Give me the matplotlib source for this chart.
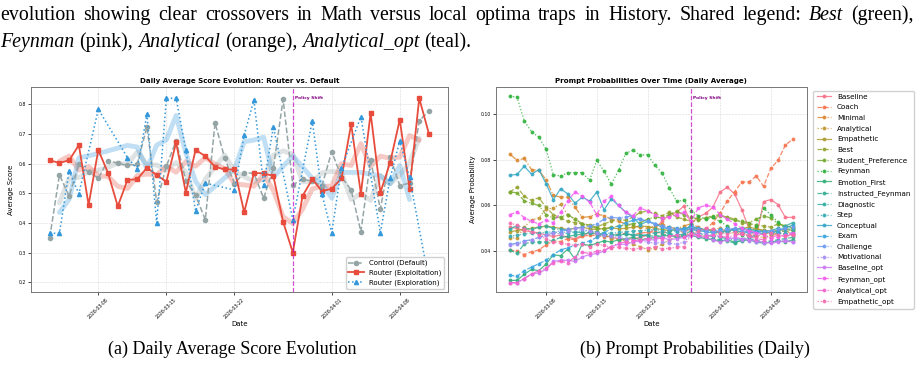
import numpy as np
import pandas as pd
import matplotlib
matplotlib.use("Agg")
import matplotlib.pyplot as plt
import matplotlib.dates as mdates
from matplotlib.ticker import MultipleLocator
import seaborn as sns

# ---- data -------------------------------------------------------------
dates = pd.date_range("2026-03-03", "2026-04-11", freq="D")
policy_shift = pd.Timestamp("2026-03-28")

control = [0.350, 0.562, 0.490, 0.599, 0.571, 0.551, 0.610, 0.601, 0.594, 0.598,
           0.724, 0.470, 0.591, 0.677, 0.542, 0.494, 0.410, 0.737, 0.618, 0.532,
           0.569, 0.567, 0.483, 0.584, 0.817, 0.528, 0.548, 0.540, 0.526, 0.640,
           0.555, 0.511, 0.370, 0.612, 0.446, 0.623, 0.526, 0.534, 0.744, 0.778]
exploit = [0.611, 0.602, 0.611, 0.662, 0.461, 0.646, 0.568, 0.456, 0.545, 0.547,
           0.586, 0.561, 0.539, 0.671, 0.502, 0.646, 0.625, 0.589, 0.580, 0.580,
           0.436, 0.568, 0.567, 0.558, 0.404, 0.300, 0.491, 0.547, 0.507, 0.515,
           0.550, 0.733, 0.498, 0.770, 0.502, 0.603, 0.748, 0.515, 0.820, 0.700]
explore = [0.365, 0.365, 0.576, 0.498, None, 0.783, None, None, 0.620, 0.581,
           0.766, 0.400, 0.820, 0.820, 0.646, 0.440, 0.534, None, None, 0.511,
           0.696, 0.814, 0.528, 0.724, None, 0.410, None, 0.744, 0.497, 0.367,
           0.585, None, 0.758, None, 0.367, 0.550, 0.677, 0.554, None, 0.205]

prompt_names = ["Baseline", "Coach", "Minimal", "Analytical", "Empathetic", "Best",
                "Student_Preference", "Feynman", "Emotion_First", "Instructed_Feynman",
                "Diagnostic", "Step", "Conceptual", "Exam", "Challenge", "Motivational",
                "Baseline_opt", "Feynman_opt", "Analytical_opt", "Empathetic_opt"]

baseline = [0.0505, 0.0500, 0.0490, 0.0485, 0.0480, 0.0470, 0.0465, 0.0470, 0.0460, 0.0455,
            0.0470, 0.0480, 0.0475, 0.0470, 0.0460, 0.0455, 0.0450, 0.0455, 0.0460, 0.0470,
            0.0500, 0.0530, 0.0560, 0.0570, 0.0597, 0.0520, 0.0550, 0.0565, 0.0592, 0.0659,
            0.0680, 0.0651, 0.0582, 0.0497, 0.0460, 0.0617, 0.0626, 0.0604, 0.0548, 0.0548]
coach = [0.0405, 0.0400, 0.0385, 0.0398, 0.0405, 0.0428, 0.0445, 0.0442, 0.0455, 0.0450,
         0.0465, 0.0470, 0.0468, 0.0462, 0.0470, 0.0475, 0.0478, 0.0470, 0.0480, 0.0482,
         0.0485, 0.0478, 0.0490, 0.0495, 0.0480, 0.0500, 0.0490, 0.0495, 0.0525, 0.0566,
         0.0620, 0.0660, 0.0703, 0.0703, 0.0729, 0.0684, 0.0762, 0.0798, 0.0864, 0.0890]
minimal = [0.0825, 0.0798, 0.0806, 0.0757, 0.0754, 0.0713, 0.0644, 0.0637, 0.0637, 0.0592,
           0.0548, 0.0551, 0.0563, 0.0555, 0.0540, 0.0530, 0.0520, 0.0510, 0.0505, 0.0500,
           0.0510, 0.0520, 0.0505, 0.0498, 0.0510, 0.0520, 0.0505, 0.0490, 0.0495, 0.0500,
           0.0485, 0.0495, 0.0480, 0.0490, 0.0500, 0.0485, 0.0470, 0.0480, 0.0490, 0.0475]
analytical = [0.0457, 0.0459, 0.0505, 0.0537, 0.0545, 0.0585, 0.0588, 0.0605, 0.0560, 0.0540,
              0.0520, 0.0505, 0.0480, 0.0470, 0.0455, 0.0450, 0.0445, 0.0430, 0.0420, 0.0406,
              0.0415, 0.0430, 0.0450, 0.0465, 0.0470, 0.0480, 0.0470, 0.0465, 0.0470, 0.0480,
              0.0490, 0.0475, 0.0480, 0.0470, 0.0465, 0.0460, 0.0470, 0.0480, 0.0475, 0.0470]
empathetic = [0.0485, 0.0490, 0.0495, 0.0500, 0.0505, 0.0510, 0.0505, 0.0500, 0.0495, 0.0500,
              0.0505, 0.0498, 0.0495, 0.0500, 0.0502, 0.0498, 0.0500, 0.0505, 0.0510, 0.0508,
              0.0500, 0.0495, 0.0490, 0.0495, 0.0500, 0.0505, 0.0498, 0.0495, 0.0490, 0.0485,
              0.0490, 0.0495, 0.0500, 0.0505, 0.0498, 0.0492, 0.0488, 0.0490, 0.0495, 0.0492]
best = [0.0659, 0.0680, 0.0640, 0.0622, 0.0634, 0.0592, 0.0560, 0.0545, 0.0530, 0.0525,
        0.0520, 0.0515, 0.0505, 0.0520, 0.0530, 0.0540, 0.0535, 0.0550, 0.0570, 0.0575,
        0.0565, 0.0555, 0.0570, 0.0550, 0.0540, 0.0530, 0.0535, 0.0545, 0.0550, 0.0555,
        0.0550, 0.0540, 0.0525, 0.0520, 0.0515, 0.0510, 0.0505, 0.0520, 0.0510, 0.0505]
student_pref = [0.0660, 0.0655, 0.0620, 0.0610, 0.0600, 0.0560, 0.0545, 0.0550, 0.0560, 0.0540,
                0.0520, 0.0510, 0.0500, 0.0495, 0.0505, 0.0510, 0.0515, 0.0520, 0.0525, 0.0540,
                0.0550, 0.0545, 0.0560, 0.0575, 0.0560, 0.0550, 0.0540, 0.0545, 0.0555, 0.0560,
                0.0545, 0.0535, 0.0530, 0.0525, 0.0540, 0.0555, 0.0545, 0.0520, 0.0510, 0.0500]
feynman = [0.1078, 0.1075, 0.0970, 0.0923, 0.0900, 0.0847, 0.0735, 0.0729, 0.0744, 0.0744,
           0.0744, 0.0710, 0.0798, 0.0750, 0.0693, 0.0754, 0.0829, 0.0842, 0.0820, 0.0823,
           0.0776, 0.0742, 0.0678, 0.0619, 0.0622, 0.0578, 0.0555, 0.0540, 0.0548, 0.0530,
           0.0510, 0.0490, 0.0470, 0.0467, 0.0510, 0.0587, 0.0560, 0.0526, 0.0505, 0.0490]
emotion_first = [0.0272, 0.0272, 0.0299, 0.0320, 0.0315, 0.0343, 0.0384, 0.0380, 0.0409, 0.0365,
                 0.0431, 0.0425, 0.0435, 0.0445, 0.0440, 0.0450, 0.0455, 0.0460, 0.0450, 0.0455,
                 0.0460, 0.0465, 0.0470, 0.0460, 0.0465, 0.0470, 0.0460, 0.0455, 0.0450, 0.0445,
                 0.0450, 0.0440, 0.0445, 0.0450, 0.0440, 0.0435, 0.0440, 0.0445, 0.0440, 0.0450]
instructed_feynman = [0.0404, 0.0390, 0.0432, 0.0440, 0.0440, 0.0440, 0.0447, 0.0460, 0.0465, 0.0470,
                      0.0475, 0.0478, 0.0475, 0.0470, 0.0465, 0.0470, 0.0475, 0.0472, 0.0470, 0.0468,
                      0.0465, 0.0470, 0.0475, 0.0468, 0.0470, 0.0490, 0.0465, 0.0460, 0.0455, 0.0450,
                      0.0445, 0.0435, 0.0450, 0.0455, 0.0448, 0.0440, 0.0445, 0.0450, 0.0455, 0.0460]
diagnostic = [0.0497, 0.0512, 0.0500, 0.0495, 0.0505, 0.0510, 0.0500, 0.0495, 0.0490, 0.0485,
              0.0480, 0.0482, 0.0478, 0.0475, 0.0470, 0.0472, 0.0475, 0.0470, 0.0468, 0.0472,
              0.0480, 0.0485, 0.0478, 0.0470, 0.0475, 0.0520, 0.0480, 0.0470, 0.0465, 0.0460,
              0.0455, 0.0450, 0.0455, 0.0460, 0.0470, 0.0480, 0.0490, 0.0500, 0.0510, 0.0525]
step = [0.0465, 0.0470, 0.0475, 0.0480, 0.0478, 0.0482, 0.0485, 0.0480, 0.0478, 0.0485,
        0.0490, 0.0488, 0.0485, 0.0480, 0.0478, 0.0482, 0.0485, 0.0488, 0.0490, 0.0492,
        0.0495, 0.0490, 0.0488, 0.0485, 0.0490, 0.0500, 0.0495, 0.0490, 0.0485, 0.0480,
        0.0485, 0.0490, 0.0495, 0.0490, 0.0485, 0.0480, 0.0478, 0.0485, 0.0490, 0.0495]
conceptual = [0.0733, 0.0736, 0.0772, 0.0737, 0.0757, 0.0696, 0.0625, 0.0673, 0.0651, 0.0610,
              0.0637, 0.0619, 0.0659, 0.0581, 0.0629, 0.0600, 0.0570, 0.0548, 0.0516, 0.0531,
              0.0520, 0.0505, 0.0495, 0.0490, 0.0500, 0.0495, 0.0490, 0.0485, 0.0480, 0.0485,
              0.0490, 0.0495, 0.0500, 0.0495, 0.0490, 0.0485, 0.0480, 0.0490, 0.0500, 0.0515]
exam = [0.0295, 0.0290, 0.0315, 0.0330, 0.0345, 0.0360, 0.0385, 0.0405, 0.0415, 0.0425,
        0.0435, 0.0445, 0.0460, 0.0480, 0.0500, 0.0510, 0.0525, 0.0535, 0.0540, 0.0530,
        0.0520, 0.0510, 0.0505, 0.0500, 0.0495, 0.0510, 0.0500, 0.0495, 0.0490, 0.0495,
        0.0500, 0.0490, 0.0485, 0.0480, 0.0485, 0.0490, 0.0485, 0.0480, 0.0475, 0.0480]
challenge = [0.0430, 0.0435, 0.0445, 0.0450, 0.0460, 0.0470, 0.0480, 0.0490, 0.0495, 0.0500,
             0.0505, 0.0510, 0.0520, 0.0540, 0.0548, 0.0545, 0.0550, 0.0555, 0.0540, 0.0530,
             0.0520, 0.0510, 0.0500, 0.0495, 0.0490, 0.0500, 0.0495, 0.0490, 0.0485, 0.0490,
             0.0495, 0.0500, 0.0490, 0.0485, 0.0480, 0.0485, 0.0490, 0.0495, 0.0500, 0.0505]
motivational = [0.0425, 0.0430, 0.0440, 0.0450, 0.0460, 0.0470, 0.0480, 0.0475, 0.0490, 0.0500,
                0.0495, 0.0490, 0.0480, 0.0470, 0.0465, 0.0460, 0.0455, 0.0450, 0.0445, 0.0440,
                0.0435, 0.0440, 0.0435, 0.0431, 0.0440, 0.0470, 0.0480, 0.0475, 0.0470, 0.0465,
                0.0460, 0.0455, 0.0450, 0.0445, 0.0440, 0.0435, 0.0440, 0.0445, 0.0450, 0.0440]
baseline_opt = [0.0262, 0.0262, 0.0280, 0.0300, 0.0305, 0.0320, 0.0355, 0.0360, 0.0360, 0.0355,
                0.0375, 0.0385, 0.0390, 0.0400, 0.0420, 0.0430, 0.0430, 0.0440, 0.0445, 0.0450,
                0.0450, 0.0460, 0.0450, 0.0455, 0.0460, 0.0470, 0.0465, 0.0460, 0.0450, 0.0440,
                0.0450, 0.0460, 0.0455, 0.0450, 0.0445, 0.0440, 0.0435, 0.0440, 0.0445, 0.0440]
feynman_opt = [0.0560, 0.0572, 0.0547, 0.0530, 0.0520, 0.0535, 0.0525, 0.0570, 0.0620, 0.0660,
               0.0640, 0.0615, 0.0560, 0.0620, 0.0640, 0.0600, 0.0570, 0.0555, 0.0590, 0.0575,
               0.0560, 0.0545, 0.0550, 0.0560, 0.0570, 0.0530, 0.0590, 0.0600, 0.0595, 0.0560,
               0.0540, 0.0520, 0.0500, 0.0490, 0.0480, 0.0470, 0.0455, 0.0460, 0.0470, 0.0480]
analytical_opt = [0.0262, 0.0262, 0.0280, 0.0300, 0.0315, 0.0325, 0.0350, 0.0355, 0.0350, 0.0375,
                  0.0395, 0.0390, 0.0400, 0.0405, 0.0420, 0.0435, 0.0440, 0.0445, 0.0450, 0.0455,
                  0.0460, 0.0455, 0.0465, 0.0470, 0.0460, 0.0480, 0.0470, 0.0465, 0.0470, 0.0465,
                  0.0460, 0.0470, 0.0475, 0.0465, 0.0455, 0.0450, 0.0460, 0.0470, 0.0465, 0.0475]
empathetic_opt = [0.0523, 0.0515, 0.0498, 0.0485, 0.0470, 0.0455, 0.0440, 0.0435, 0.0430, 0.0425,
                  0.0430, 0.0420, 0.0430, 0.0425, 0.0415, 0.0418, 0.0412, 0.0411, 0.0412, 0.0415,
                  0.0418, 0.0410, 0.0412, 0.0418, 0.0420, 0.0470, 0.0490, 0.0500, 0.0495, 0.0480,
                  0.0475, 0.0485, 0.0480, 0.0470, 0.0465, 0.0475, 0.0480, 0.0470, 0.0465, 0.0470]

prompt_series = [baseline, coach, minimal, analytical, empathetic, best, student_pref,
                 feynman, emotion_first, instructed_feynman, diagnostic, step, conceptual,
                 exam, challenge, motivational, baseline_opt, feynman_opt, analytical_opt,
                 empathetic_opt]

# ---- figure -----------------------------------------------------------
fig = plt.figure(figsize=(9.23, 3.65), dpi=100)
ax1 = fig.add_axes([0.0333, 0.2, 0.452, 0.5616])
ax2 = fig.add_axes([0.537, 0.2, 0.337, 0.5616])

GRAY, RED, BLUE = "#95a5a6", "#e74c3c", "#3498db"

ctrl = pd.Series(control, index=dates)
expl = pd.Series(exploit, index=dates)
explr = pd.Series(explore, index=dates, dtype=float).dropna()

# smoothed trends (rolling mean, 3 days)
for s, c in [(ctrl, GRAY), (expl, RED), (explr, BLUE)]:
    sm = s.rolling(3, center=True).mean()
    ax1.plot(sm.index, sm.values, color=c, lw=3.5, alpha=0.3, solid_capstyle="round")

ax1.plot(ctrl.index, ctrl.values, color=GRAY, ls="--", marker="o", ms=3, lw=1.1,
         label="Control (Default)")
ax1.plot(expl.index, expl.values, color=RED, ls="-", marker="s", ms=3.2, lw=1.3,
         label="Router (Exploitation)")
ax1.plot(explr.index, explr.values, color=BLUE, ls=":", marker="^", ms=3, lw=1.1,
         label="Router (Exploration)")
ax1.set_ylim(0.167, 0.858)
ax1.set_title("Daily Average Score Evolution: Router vs. Default", fontsize=5.1,
              fontweight="bold", pad=3)
ax1.set_ylabel("Average Score", fontsize=5, labelpad=3)
ax1.legend(loc="lower right", fontsize=5, framealpha=0.9, handlelength=2.2,
           borderpad=0.4, labelspacing=0.45)

palette = sns.color_palette("husl", len(prompt_names))
styles = ["-", "--", "-.", ":"]
for i, (name, vals) in enumerate(zip(prompt_names, prompt_series)):
    ax2.plot(dates, vals, color=palette[i], ls=styles[i % 4], marker="o", ms=1.8,
             lw=0.9, alpha=0.85, label=name)
ax2.yaxis.set_major_locator(MultipleLocator(0.02))
ax2.set_title("Prompt Probabilities Over Time (Daily Average)", fontsize=5.1,
              fontweight="bold", pad=3)
ax2.set_ylabel("Average Probability", fontsize=5, labelpad=3)
ax2.legend(loc="upper left", bbox_to_anchor=(1.01, 1.0), fontsize=5.2,
           labelspacing=0.62, handlelength=2.0, borderpad=0.45, framealpha=0.9)

for ax in (ax1, ax2):
    ax.axvline(policy_shift, color="m", ls="--", lw=0.9, alpha=0.7)
    ax.text(policy_shift + pd.Timedelta(hours=6), 0.945, "Policy Shift",
            transform=ax.get_xaxis_transform(), color="purple", fontsize=3.2,
            fontweight="bold", va="center")
    ax.xaxis.set_major_locator(mdates.DayLocator(bymonthday=[1, 8, 15, 22]))
    ax.xaxis.set_major_formatter(mdates.DateFormatter("%Y-%m-%d"))
    ax.tick_params(axis="both", labelsize=3.3, length=2, width=0.5, pad=1.5)
    plt.setp(ax.get_xticklabels(), rotation=45)
    ax.set_xlabel("Date", fontsize=5, labelpad=1)
    ax.grid(True, ls="--", lw=0.4, alpha=0.5)
    for sp in ax.spines.values():
        sp.set_color("#777777")
        sp.set_linewidth(0.7)

# ---- caption text -----------------------------------------------------
serif = "Liberation Serif"
renderer = fig.canvas.get_renderer()


def text_width(txt, style, size):
    t = fig.text(0, 0, txt, fontsize=size, family=serif, fontstyle=style)
    w = t.get_window_extent(renderer=renderer).width / fig.bbox.width
    t.remove()
    return w


def rich_line(x, y, words, size, width=None):
    # words: list of (word, style); optional justification to given width
    widths = [text_width(w, s, size) for w, s in words]
    gap = text_width("a a", "normal", size) - text_width("aa", "normal", size)
    if width is not None:
        gap = (width - sum(widths)) / (len(words) - 1)
    for (w, s), wd in zip(words, widths):
        fig.text(x, y, w, fontsize=size, family=serif, fontstyle=s,
                 va="baseline", ha="left")
        x += wd + gap


line1 = ("evolution showing clear crossovers in Math versus local optima traps in "
         "History.  Shared legend:").split()
words1 = [(w, "normal") for w in line1] + [("Best", "italic"), ("(green),", "normal")]
words2 = [("Feynman", "italic"), ("(pink),", "normal"), ("Analytical", "italic"),
          ("(orange),", "normal"), ("Analytical_opt", "italic"), ("(teal).", "normal")]
rich_line(0.0, 1 - 20 / 365, words1, 14.3, width=0.99)
rich_line(0.0, 1 - 47 / 365, words2, 14.3)

fig.text(0.252, 1 - 354 / 365, "(a) Daily Average Score Evolution", fontsize=13,
         family=serif, ha="center", va="baseline")
fig.text(0.753, 1 - 354 / 365, "(b) Prompt Probabilities (Daily)", fontsize=13,
         family=serif, ha="center", va="baseline")

fig.savefig("out.png", dpi=100)
